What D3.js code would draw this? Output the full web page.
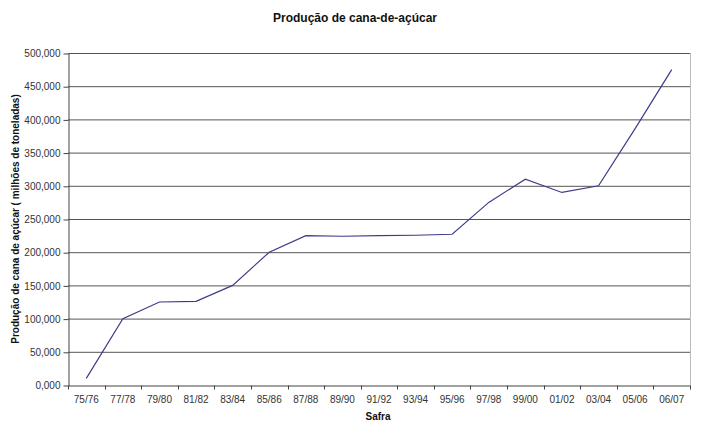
<!DOCTYPE html>
<html>
<head>
<meta charset="utf-8">
<script src="https://cdn.jsdelivr.net/npm/d3@7"></script>
<style>
  body { margin: 0; background: #fff; }
  text { font-family: "Liberation Sans", Arial, sans-serif; }
</style>
</head>
<body>
<div id="container"></div>
<script>
// data (milhões de toneladas)
var safras = ['75/76', '77/78', '79/80', '81/82', '83/84', '85/86', '87/88', '89/90', '91/92',
              '93/94', '95/96', '97/98', '99/00', '01/02', '03/04', '05/06', '06/07'];
var producao = [10, 100, 125, 126, 150, 200, 225, 224, 225, 225.5, 227, 275, 310, 290, 300, 386, 475];
var yTicks = [0, 50, 100, 150, 200, 250, 300, 350, 400, 450, 500];

var w = 720, h = 436;
var margin = {top: 53, right: 30, bottom: 51, left: 68};

var svg = d3.select('#container')
    .append('svg')
    .attr('width', w)
    .attr('height', h);

var x = d3.scaleBand()
    .domain(safras)
    .range([margin.left, w - margin.right]);

var y = d3.scaleLinear()
    .domain([0, 500])
    .range([h - margin.bottom, margin.top]);

var fmt = function(v) { return v.toFixed(3).replace('.', ','); };

// gridlines
svg.append('g')
   .selectAll('line')
   .data(yTicks.slice(1))
   .enter()
   .append('line')
   .attr('x1', margin.left)
   .attr('x2', w - margin.right)
   .attr('y1', function(d) { return y(d) + 0.5; })
   .attr('y2', function(d) { return y(d) + 0.5; })
   .attr('stroke', '#555')
   .attr('stroke-width', 1);

// right border
svg.append('line')
   .attr('x1', w - margin.right + 0.5)
   .attr('x2', w - margin.right + 0.5)
   .attr('y1', margin.top)
   .attr('y2', h - margin.bottom)
   .attr('stroke', '#bbb');

// y axis
var yAxis = svg.append('g')
   .attr('transform', 'translate(' + (margin.left + 0.5) + ',0.5)')
   .call(d3.axisLeft(y).tickValues(yTicks).tickFormat(fmt).tickSize(5).tickSizeOuter(0));

// x axis, ticks on band edges
var xAxis = svg.append('g')
   .attr('transform', 'translate(0,' + (h - margin.bottom + 0.5) + ')')
   .call(d3.axisBottom(x).tickSize(0).tickPadding(10).tickSizeOuter(0));

xAxis.selectAll('.edge')
   .data(safras.concat(['end']))
   .enter()
   .append('line')
   .attr('class', 'edge')
   .attr('x1', function(d, i) { return Math.round(margin.left + i * x.step()) + 0.5; })
   .attr('x2', function(d, i) { return Math.round(margin.left + i * x.step()) + 0.5; })
   .attr('y1', 0)
   .attr('y2', 4)
   .attr('stroke', '#444');

[yAxis, xAxis].forEach(function(a) {
    a.select('.domain').attr('stroke', '#444');
    a.selectAll('.tick line').attr('stroke', '#444');
    a.selectAll('text')
     .style('font-size', '10px')
     .attr('fill', '#333');
});

// line
var line = d3.line()
    .x(function(d, i) { return x(safras[i]) + x.bandwidth() / 2; })
    .y(function(d) { return y(d); });

svg.append('path')
   .datum(producao)
   .attr('d', line)
   .attr('fill', 'none')
   .attr('stroke', '#3c3c8a')
   .attr('stroke-width', 1.2);

// titles
svg.append('text')
   .attr('x', 355)
   .attr('y', 22)
   .attr('text-anchor', 'middle')
   .style('font-size', '12px')
   .style('font-weight', 'bold')
   .attr('fill', '#111')
   .text('Produção de cana-de-açúcar');

svg.append('text')
   .attr('x', 378)
   .attr('y', 420)
   .attr('text-anchor', 'middle')
   .style('font-size', '10px')
   .style('font-weight', 'bold')
   .attr('fill', '#111')
   .text('Safra');

svg.append('text')
   .attr('transform', 'translate(19,' + (margin.top + (h - margin.bottom - margin.top) / 2) + ') rotate(-90)')
   .attr('text-anchor', 'middle')
   .style('font-size', '10px')
   .style('font-weight', 'bold')
   .attr('fill', '#111')
   .text('Produção de cana de açúcar ( milhões de toneladas)');
</script>
</body>
</html>
